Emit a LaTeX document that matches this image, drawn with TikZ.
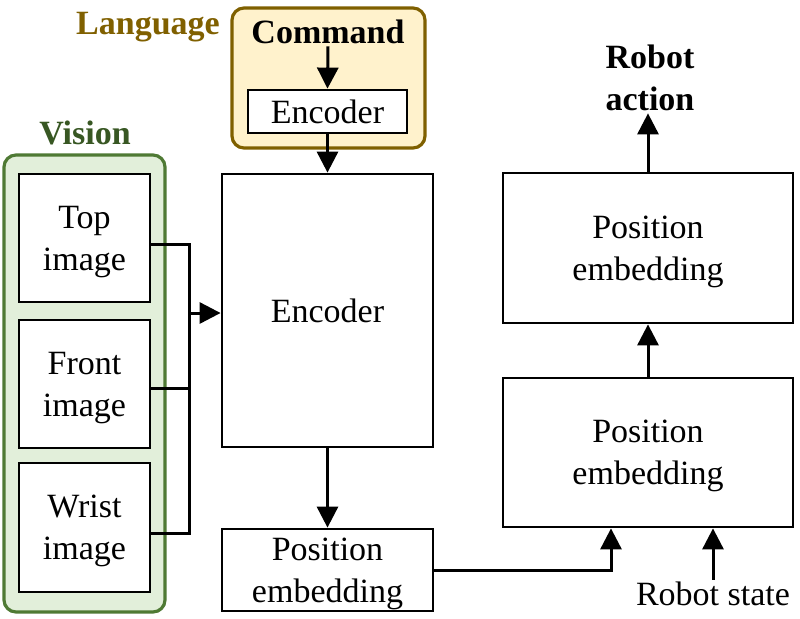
\documentclass[tikz,border=0pt]{standalone}
\usepackage{fontspec}
\setmainfont{Liberation Serif}
\usetikzlibrary{arrows.meta}
\definecolor{langfill}{HTML}{FFF2CC}
\definecolor{langdraw}{HTML}{7F6000}
\definecolor{langtext}{HTML}{806000}
\definecolor{visfill}{HTML}{E2EFDA}
\definecolor{visdraw}{HTML}{4F7A34}
\definecolor{vistext}{HTML}{385723}
\begin{document}
\begin{tikzpicture}[x=0.5pt,y=-0.5pt,
  font=\fontsize{17}{21}\selectfont,
  box/.style={draw=black, line width=1.4pt, fill=white, align=center, inner sep=0pt},
  group/.style={rounded corners=6pt, line width=1.6pt},
  lbl/.style={font=\fontsize{17}{21}\selectfont\bfseries, align=center, inner sep=1pt},
  plain/.style={align=center, inner sep=1pt},
  arr/.style={line width=1.5pt, -{Triangle[length=10.5pt,width=10.5pt]}},
  wire/.style={line width=1.5pt}
]
\useasboundingbox (0,0) rectangle (800,618);

% group backgrounds
\node[group, draw=langdraw, fill=langfill, minimum width=96.5pt, minimum height=70pt, inner sep=0pt] (langbox) at (328.5,78) {};
\node[group, draw=visdraw, fill=visfill, minimum width=80.5pt, minimum height=228.5pt, inner sep=0pt] (visbox) at (84.5,383.5) {};

% labels
\node[lbl, text=langtext] (langlbl) at (148,27) {Language};
\node[lbl, text=vistext] (vislbl) at (85,133) {Vision};
\node[lbl] (cmd) at (328,32) {Command};
\node[lbl] (ra) at (650,78) {Robot\\action};
\node[plain] (rs) at (713,594) {Robot state};

% boxes
\node[box, minimum width=79.5pt, minimum height=21.5pt] (cenc) at (327.5,111.5) {Encoder};
\node[box, minimum width=105.5pt, minimum height=136.5pt] (enc) at (327.5,310.5) {Encoder};
\node[box, minimum width=65.5pt, minimum height=64pt] (top) at (84.5,238) {\strut Top\\image};
\node[box, minimum width=65.5pt, minimum height=64pt] (front) at (84.5,384) {\strut Front\\image};
\node[box, minimum width=65.5pt, minimum height=64.5pt] (wrist) at (84.5,527.5) {\strut Wrist\\image};
\node[box, minimum width=105.5pt, minimum height=41pt] (pe1) at (327.5,570) {\strut Position\\embedding};
\node[box, minimum width=145pt, minimum height=74.5pt] (pe2) at (648,452.5) {\strut Position\\embedding};
\node[box, minimum width=145pt, minimum height=75pt] (pe3) at (648,248) {\strut Position\\embedding};

% connectors
\coordinate (j) at (189,313);
\draw[arr] (cmd.south) -- (cenc.north);
\draw[arr] (cenc.south) -- (enc.north);
\draw[wire] ([yshift=-3pt]top.east) -| (j);
\draw[wire] ([yshift=-3pt]wrist.east) -| (j);
\draw[wire] ([yshift=-2pt]front.east) -- ([yshift=-2pt]front.east -| j);
\draw[arr] (j) -- (j -| enc.west);
\draw[arr] (enc.south) -- (pe1.north);
\draw[arr] (pe1.east) -| ([xshift=-18.5pt]pe2.south);
\draw[arr] (rs.north) -- (rs.north |- pe2.south);
\draw[arr] (pe2.north) -- (pe3.south);
\draw[arr] (pe3.north) -- (pe3.north |- ra.south);
\end{tikzpicture}
\end{document}
